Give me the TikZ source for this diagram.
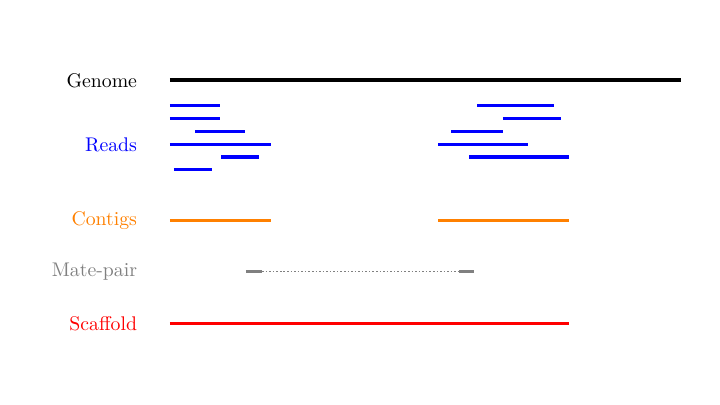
\documentclass[tikz,border=0pt]{standalone}
\usepackage{tikz}
\usetikzlibrary{positioning}
\definecolor{readcolor}{RGB}{0,0,255}
\definecolor{contigcolor}{RGB}{255,128,0}
\definecolor{matecolor}{RGB}{128,128,128}
\definecolor{scaffcolor}{RGB}{255,0,0}

\begin{document}
\begin{tikzpicture}
    \useasboundingbox (0,0) rectangle (12.8,7.2);
    \tikzset{label/.style={anchor=east}}

    % Genome
    \node[label] (genome) at (2.56,5.77) {Genome};
    \draw[black, line width=2pt] (3.02,5.77) -- (12.11,5.77);

    % Reads
    \node[label, readcolor] (reads) at (2.56,4.63) {Reads};
    \draw[readcolor, line width=1.6pt] (3.02,5.32) -- (3.91,5.32);
    \draw[readcolor, line width=1.6pt] (3.02,5.09) -- (3.91,5.09);
    \draw[readcolor, line width=1.6pt] (3.47,4.86) -- (4.36,4.86);
    \draw[readcolor, line width=1.6pt] (3.02,4.63) -- (4.82,4.63);
    \draw[readcolor, line width=1.6pt] (3.93,4.41) -- (4.60,4.41);
    \draw[readcolor, line width=1.6pt] (3.09,4.19) -- (3.77,4.19);

    \draw[readcolor, line width=1.6pt] (8.48,5.32) -- (9.85,5.32);
    \draw[readcolor, line width=1.6pt] (8.94,5.09) -- (9.97,5.09);
    \draw[readcolor, line width=1.6pt] (8.02,4.86) -- (8.94,4.86);
    \draw[readcolor, line width=1.6pt] (7.79,4.63) -- (9.39,4.63);
    \draw[readcolor, line width=1.6pt] (8.34,4.41) -- (10.12,4.41);

    % Contigs
    \node[label, contigcolor] (contigs) at (2.56,3.28) {Contigs};
    \draw[contigcolor, line width=2pt] (3.02,3.28) -- (4.82,3.28);
    \draw[contigcolor, line width=2pt] (7.79,3.28) -- (10.12,3.28);

    % Mate-pair
    \node[label, matecolor] (mate) at (2.56,2.37) {Mate-pair};
    \coordinate (mateA) at (4.66,2.37);
    \coordinate (mateB) at (8.16,2.37);
    \draw[matecolor, line width=1.6pt] (4.37,2.37) -- (mateA);
    \draw[matecolor, line width=1.6pt] (mateB) -- (8.43,2.37);
    \draw[matecolor, densely dotted, line width=0.8pt] (mateA) -- (mateB);

    % Scaffold
    \node[label, scaffcolor] (scaffold) at (2.56,1.45) {Scaffold};
    \draw[scaffcolor, line width=1.6pt] (3.02,1.45) -- (10.12,1.45);
\end{tikzpicture}
\end{document}
